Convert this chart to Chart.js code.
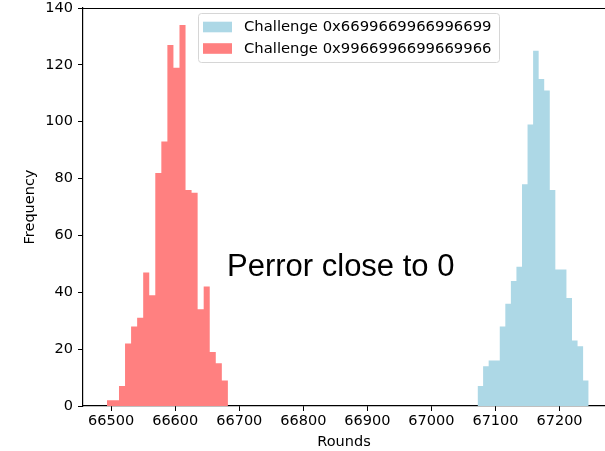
<!DOCTYPE html>
<html>
<head>
<meta charset="utf-8">
<script src="https://cdn.jsdelivr.net/npm/chart.js@4/dist/chart.umd.min.js"></script>
<style>
html,body{margin:0;padding:0;background:#fff;}
#wrap{position:relative;width:605px;height:451px;}
canvas{display:block;}
</style>
</head>
<body>
<div id="wrap"><canvas id="c" width="605" height="451"></canvas></div>
<script>
// ---- data ----
const blueLabel = "Challenge 0x6699669966996699";
const redLabel  = "Challenge 0x9966996699669966";
// histogram ranges (first bin left edge, last bin right edge), 20 bins each
const blueRange = [67072, 67245.5];
const redRange  = [66493.3, 66682.2];
const blueCounts = [7, 14, 16, 16, 28, 36, 44, 49, 78, 99, 125, 115, 111, 76, 48, 48, 38, 23, 21, 9];
const redCounts  = [2, 2, 7, 22, 28, 31, 47, 39, 82, 93, 127, 119, 134, 76, 75, 34, 42, 19, 15, 9];
const xTicks = [66500, 66600, 66700, 66800, 66900, 67000, 67100, 67200];
const yTicks = [0, 20, 40, 60, 80, 100, 120, 140];
const xLabel = "Rounds";
const yLabel = "Frequency";
const note = "Perror close to 0";

function histPoints(range, counts) {
  const n = counts.length;
  const w = (range[1] - range[0]) / n;
  const pts = [{x: range[0], y: 0}];
  for (let i = 0; i < n; i++) pts.push({x: range[0] + i * w, y: counts[i]});
  pts.push({x: range[1], y: counts[n - 1]});
  pts.push({x: range[1], y: 0});
  return pts;
}

const BLUE = '#add8e6';
const RED = '#ff8080';
const FONT = '"DejaVu Sans", sans-serif';
const FS = 14.5;
const LFS = 14.8;

const overlay = {
  id: 'overlay',
  afterDraw(chart) {
    const ctx = chart.ctx;
    const a = chart.chartArea;
    ctx.save();
    // top spine
    ctx.strokeStyle = '#000';
    ctx.lineWidth = 1.2;
    ctx.beginPath();
    ctx.moveTo(a.left, a.top + 0.5);
    ctx.lineTo(a.right, a.top + 0.5);
    ctx.stroke();

    // annotation
    ctx.fillStyle = '#000';
    ctx.font = '31px "Liberation Sans", Arial, sans-serif';
    ctx.textBaseline = 'alphabetic';
    ctx.textAlign = 'left';
    ctx.fillText(note, 227, 276);

    // legend
    const lx = 198.5, ly = 13.5, lw = 301, lh = 49;
    ctx.beginPath();
    ctx.roundRect(lx, ly, lw, lh, 3);
    ctx.fillStyle = 'rgba(255,255,255,0.8)';
    ctx.fill();
    ctx.strokeStyle = '#d6d6d6';
    ctx.lineWidth = 1;
    ctx.stroke();
    const ds = chart.data.datasets;
    const rows = [27, 48.5];
    ds.forEach((d, i) => {
      ctx.fillStyle = d.backgroundColor;
      ctx.fillRect(203, rows[i] - 5.3, 29, 10.6);
      ctx.fillStyle = '#000';
      ctx.font = LFS + 'px ' + FONT;
      ctx.textBaseline = 'middle';
      ctx.fillText(d.label, 244, rows[i] + 0.5);
    });
    ctx.restore();
  }
};

new Chart(document.getElementById('c'), {
  type: 'line',
  data: {
    datasets: [
      {label: blueLabel, data: histPoints(blueRange, blueCounts), backgroundColor: BLUE, borderColor: BLUE,
       borderWidth: 0, fill: 'origin', stepped: 'before', pointRadius: 0, tension: 0},
      {label: redLabel, data: histPoints(redRange, redCounts), backgroundColor: RED, borderColor: RED,
       borderWidth: 0, fill: 'origin', stepped: 'before', pointRadius: 0, tension: 0}
    ]
  },
  options: {
    responsive: false,
    animation: false,
    devicePixelRatio: 1,
    layout: {padding: {left: 0, right: 0, top: 8, bottom: 0}},
    plugins: {legend: {display: false}, tooltip: {enabled: false}},
    scales: {
      x: {
        type: 'linear', min: 66456, max: 67271,
        afterBuildTicks: s => { s.ticks = xTicks.map(v => ({value: v})); },
        afterFit: s => { s.height = 45; s.paddingLeft = 0; s.paddingRight = 0; },
        ticks: {color: '#000', font: {family: FONT, size: FS}, padding: 2, maxRotation: 0, autoSkip: false,
                callback: v => String(v)},
        grid: {drawOnChartArea: false, drawTicks: true, tickLength: 5, color: '#000'},
        border: {color: '#000', width: 1.2},
        title: {display: true, text: xLabel, color: '#000', font: {family: FONT, size: FS}, padding: {top: 0, bottom: 0}}
      },
      y: {
        type: 'linear', min: 0, max: 140,
        afterBuildTicks: s => { s.ticks = yTicks.map(v => ({value: v})); },
        afterFit: s => { s.width = 83; s.paddingTop = 0; s.paddingBottom = 0; },
        ticks: {color: '#000', font: {family: FONT, size: FS}, padding: 5, autoSkip: false,
                callback: v => String(v)},
        grid: {drawOnChartArea: false, drawTicks: true, tickLength: 5, color: '#000'},
        border: {color: '#000', width: 1.2},
        title: {display: true, text: yLabel, color: '#000', font: {family: FONT, size: FS}, padding: {top: 22, bottom: 0}}
      }
    }
  },
  plugins: [overlay]
});
</script>
</body>
</html>
